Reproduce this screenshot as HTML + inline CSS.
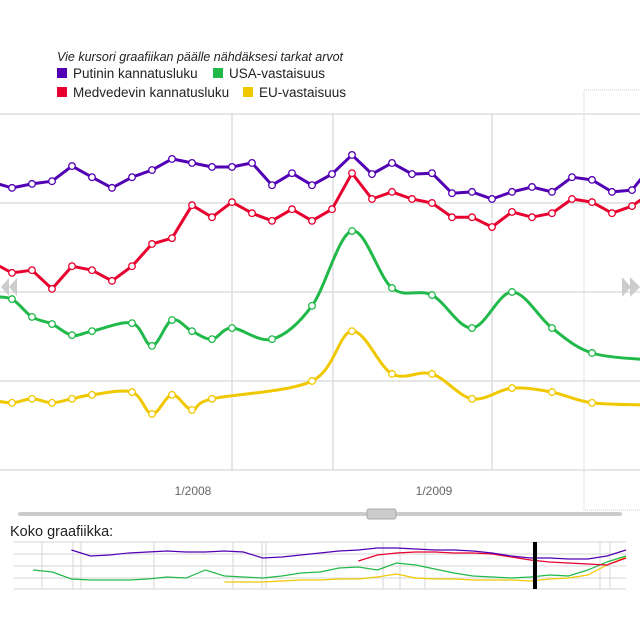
<!DOCTYPE html>
<html><head><meta charset="utf-8"><style>
body{margin:0;background:#fff;width:640px;height:621px;overflow:hidden;font-family:"Liberation Sans",sans-serif}
svg{display:block}
</style></head><body>
<svg id="chart" width="640" height="621" xmlns="http://www.w3.org/2000/svg">
<text x="57" y="61" font-size="12.5" font-style="italic" fill="#222">Vie kursori graafiikan päälle nähdäksesi tarkat arvot</text>
<g font-size="13.5" fill="#222">
<g><rect x="57" y="68" width="10" height="10" fill="#5200b4"/><text x="73" y="78">Putinin kannatusluku</text></g>
<g><rect x="213" y="68" width="10" height="10" fill="#22b94b"/><text x="229" y="78">USA-vastaisuus</text></g>
<g><rect x="57" y="87" width="10" height="10" fill="#e8002f"/><text x="73" y="97">Medvedevin kannatusluku</text></g>
<g><rect x="243" y="87" width="10" height="10" fill="#f0c800"/><text x="259" y="97">EU-vastaisuus</text></g>
</g>
<rect x="584" y="90" width="60" height="420" fill="none" stroke="#ccc" stroke-dasharray="1,1"/>
<g id="grid"></g>
<g id="series"></g>
<g>
<polygon points="9,278 9,296 1,287" fill="#ccc"/>
<polygon points="17,278 17,296 9,287" fill="#ccc"/>
</g>
<g>
<polygon points="622,277 622,297 631,287" fill="#ccc"/>
<polygon points="630,277 630,297 640,287" fill="#ccc"/>
</g>
<text x="193" y="495" font-size="12" fill="#666" text-anchor="middle">1/2008</text>
<text x="434" y="495" font-size="12" fill="#666" text-anchor="middle">1/2009</text>
<rect x="18" y="512" width="604" height="4" rx="2" fill="#ccc"/>
<rect x="367" y="509" width="29" height="10" rx="2" fill="#ccc" stroke="#aaa"/>
<text x="10" y="536" font-size="14.5" fill="#222">Koko graafiikka:</text>
<g id="mini"></g>
</svg>
<script>
const putin=[64.7,63.4,64.3,64.9,68.3,65.8,63.4,65.8,67.4,69.9,69.0,68.1,68.1,69.0,64.0,66.7,64.0,66.5,70.8,66.5,69.0,66.5,66.7,62.2,62.5,60.9,62.5,63.6,62.5,65.8,65.2,62.5,62.9,68.5];
const medvedev=[46.7,44.3,44.9,40.7,45.8,44.9,42.5,45.8,50.8,52.1,59.5,56.8,60.2,57.7,56.0,58.6,56.0,58.6,66.7,60.9,62.5,60.9,60.0,56.8,56.8,54.6,58.0,56.8,57.7,60.9,60.2,57.7,59.3,62.5];
const usa=[38.9,38.4,34.4,32.8,30.3,31.2,null,33.0,27.9,33.7,31.2,29.4,31.9,null,29.4,null,36.9,null,53.7,null,40.9,null,39.3,null,31.9,null,40.0,null,31.9,null,26.3,null,null,24.7];
const eu=[15.7,15.1,16.0,15.1,16.0,16.9,null,17.5,12.6,16.9,13.5,16.0,null,null,null,null,20.0,null,31.2,null,21.6,null,21.6,null,16.0,null,18.4,null,17.5,null,15.1,null,null,14.6];
const miniPutin=[null,null,null,83,70.2,72.3,76.6,78.7,80.9,78.7,78.7,80.9,78.7,66,68.1,72.3,76.6,80.9,83,87.2,87.2,85.1,83,83,80.9,76.6,70.2,66,66,63.8,63.8,70.2,83];
const miniMedvedev=[null,null,null,null,null,null,null,null,null,null,null,null,null,null,null,null,null,null,59.6,72.3,76.6,78.7,78.7,76.6,76.6,74.5,68.1,61.7,57.4,55.3,53.2,51.1,66];
const miniUsa=[null,40.4,36.2,21.3,19.1,19.1,19.1,21.3,25.5,23.4,40.4,27.7,25.5,23.4,27.7,34,36.2,44.7,46.8,40.4,55.3,51.1,42.6,34,27.7,25.5,23.4,25.5,29.8,27.7,40.4,57.4,70.2];
const miniEu=[null,null,null,null,null,null,null,null,null,null,null,14.9,14.9,14.9,17,19.1,19.1,21.3,21.3,25.5,31.9,23.4,21.3,21.3,19.1,19.1,19.1,17,21.3,23.4,29.8,51.1,68.1];
const yTicks=[0,20,40,60,80];

const NS='http://www.w3.org/2000/svg';
const xS=i=>-8+i*20;
const yS=v=>470-v*89/20;
const mxS=i=>14+i*19.125;
const myS=v=>589-v*0.47;
function mk(t,a,p){const e=document.createElementNS(NS,t);for(const k in a)e.setAttribute(k,a[k]);p.appendChild(e);return e;}
const grid=document.getElementById('grid');
yTicks.forEach(v=>{
  const l=mk('line',{x1:0,x2:640,y1:yS(v),y2:yS(v),stroke:'#ddd','stroke-width':1.5},grid);
  
  
});
[232,333,492].forEach(x=>{
  const l=mk('line',{x1:x,x2:x,y1:113,y2:470,stroke:'#ddd','stroke-width':1.5},grid);
  
  
});
function pathD(pts,smooth){
  if(!smooth)return pts.map((p,i)=>(i?'L':'M')+p[0].toFixed(1)+','+p[1].toFixed(1)).join('');
  let d='M'+pts[0][0]+','+pts[0][1];
  for(let i=0;i<pts.length-1;i++){
    const p0=pts[i-1]||pts[i],p1=pts[i],p2=pts[i+1],p3=pts[i+2]||p2;
    const c1=[p1[0]+(p2[0]-p0[0])/6,p1[1]+(p2[1]-p0[1])/6];
    const c2=[p2[0]-(p3[0]-p1[0])/6,p2[1]-(p3[1]-p1[1])/6];
    d+='C'+c1[0].toFixed(1)+','+c1[1].toFixed(1)+' '+c2[0].toFixed(1)+','+c2[1].toFixed(1)+' '+p2[0].toFixed(1)+','+p2[1].toFixed(1);
  }
  return d;
}
const ser=document.getElementById('series');
function draw(data,color,name,smooth){
  const pts=[];data.forEach((v,i)=>{if(v!==null)pts.push([xS(i),yS(v)]);});
  const p=mk('path',{d:pathD(pts,smooth),fill:'none',stroke:color,'stroke-width':3,'stroke-linejoin':'round'},ser);
  
  
  pts.forEach(q=>{
    if(q[0]<4||q[0]>636)return;
    const c=mk('circle',{cx:q[0],cy:q[1],r:3.3,fill:'#fff',stroke:color,'stroke-width':1.3},ser);
    
    
  });
}
draw(eu,'#f0c800','eu',true);
draw(usa,'#22b94b','usa',true);
draw(medvedev,'#e8002f','medvedev',false);
draw(putin,'#5200b4','putin',false);

const mini=document.getElementById('mini');
[542,554,566,578,589].forEach(y=>{
  const l=mk('line',{x1:14,x2:626,y1:y,y2:y,stroke:'#ddd','stroke-width':1.2},mini);
  
  
});
[42,73,81,154,233,262,266,383,400,425,600,610].forEach(x=>{
  const l=mk('line',{x1:x,x2:x,y1:542,y2:589,stroke:'#ddd','stroke-width':1.2},mini);
  
  
});
function drawMini(data,color,name){
  const pts=[];data.forEach((v,i)=>{if(v!==null)pts.push([mxS(i),myS(v)]);});
  const p=mk('path',{d:pathD(pts,false),fill:'none',stroke:color,'stroke-width':1.2},mini);
  
  
}
drawMini(miniEu,'#f0c800','overview-eu-line');
drawMini(miniUsa,'#22b94b','overview-usa-line');
drawMini(miniMedvedev,'#e8002f','overview-medvedev-line');
drawMini(miniPutin,'#5200b4','overview-putin-line');
const b=mk('rect',{x:533,y:542,width:4,height:47,fill:'#000'},mini);


</script>
</body></html>
